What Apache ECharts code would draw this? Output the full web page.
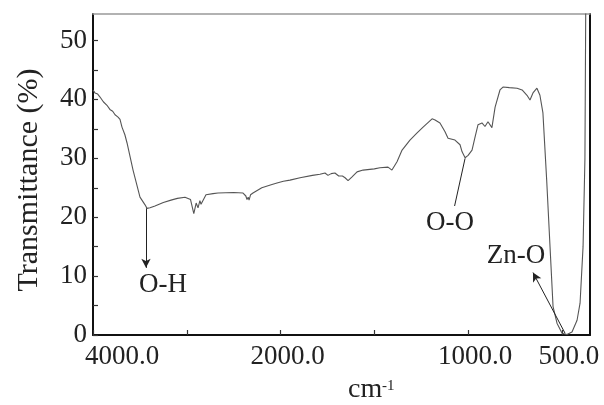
<!DOCTYPE html>
<html>
<head>
<meta charset="utf-8">
<script src="https://cdn.jsdelivr.net/npm/echarts@6/dist/echarts.min.js"></script>
<style>
  html, body { margin: 0; padding: 0; background: #fff; }
  #chart { width: 604px; height: 405px; }
</style>
</head>
<body>
<div id="chart"></div>
<script>
// FTIR spectrum: wavenumber (cm-1) and transmittance (%)
const wavenumber = [
  4000, 3979, 3950, 3925, 3890, 3851, 3820, 3790, 3765, 3750, 3733, 3712, 3691, 3660, 3637,
  3573, 3499, 3445, 3424, 3392, 3339, 3250, 3168, 3100, 3019, 2960, 2925, 2900, 2880, 2860,
  2848, 2795, 2720, 2667, 2500, 2400, 2370, 2358, 2345, 2336, 2320, 2294, 2200, 2100, 2038,
  1985, 1950, 1896, 1830, 1790, 1763, 1747, 1730, 1710, 1690, 1683, 1670, 1656, 1640, 1620,
  1592, 1560, 1500, 1470, 1427, 1406, 1379, 1352, 1310, 1272, 1240, 1192, 1176, 1150, 1123,
  1107, 1070, 1043, 1032, 1016, 1000, 979, 963, 947, 926, 910, 894, 873, 856, 830,
  814, 780, 739, 712, 686, 670, 654, 633, 617, 601, 581, 563, 547, 526, 499,
  473, 446, 419, 403, 387, 377, 372
];
const transmittance = [
  41.6, 41.1, 40.9, 40.4, 39.6, 39.0, 38.3, 38.0, 37.4, 37.6, 37.0, 36.6, 35.3, 34.0, 32.6,
  28.0, 23.4, 22.1, 21.5, 21.6, 21.9, 22.5, 22.9, 23.2, 23.4, 23.0, 20.6, 22.4, 21.6, 22.8,
  22.2, 23.8, 24.0, 24.1, 24.2, 24.1, 23.6, 23.0, 23.4, 22.9, 23.8, 24.1, 25.0, 25.5, 25.8,
  26.1, 26.3, 26.7, 27.1, 27.3, 27.5, 27.1, 27.4, 27.5, 27.0, 27.3, 27.0, 26.7, 26.2, 26.8,
  27.7, 28.0, 28.2, 28.4, 28.5, 28.0, 29.4, 31.4, 33.1, 34.3, 35.3, 36.7, 36.5, 36.0, 34.5,
  33.4, 33.1, 32.3, 31.1, 30.1, 30.5, 31.4, 33.6, 35.7, 36.0, 35.4, 36.2, 35.2, 38.7, 41.6,
  42.1, 42.0, 41.9, 41.6, 40.7, 39.9, 41.1, 41.9, 40.7, 37.7, 26.3, 14.9, 4.8, 2.0, 0.3,
  0.1, 0.5, 2.5, 5.4, 15.0, 30.0, 60.0
];

// Axis ticks (cm-1 and %)
const xTickLabels = [4000, 2000, 1000, 500];
const xTickMarks = [4000, 3000, 2000, 1500, 1000, 500];
const yTickLabels = [0, 10, 20, 30, 40, 50];
const yTickMarks = [0, 5, 10, 15, 20, 25, 30, 35, 40, 45, 50];

// Band assignments
const bandNames = ['O-H', 'O-O', 'Zn-O'];

// The region above 2000 cm-1 is drawn at half scale (broken wavenumber axis)
function toAxis(wn) { return wn > 2000 ? 2000 + (wn - 2000) / 2 : wn; }
function fromAxis(t) { return t > 2000 ? 2000 + (t - 2000) * 2 : t; }

const FONT = 'Liberation Serif';
const seriesData = wavenumber.map((w, i) => [toAxis(w), transmittance[i]]);

const chart = echarts.init(document.getElementById('chart'), null, { renderer: 'canvas' });

chart.setOption({
  animation: false,
  backgroundColor: '#fff',
  grid: { left: 93, right: 14, top: 14, bottom: 70, containLabel: false },
  xAxis: [{
    type: 'value',
    inverse: true,
    min: 350,
    max: 3000,
    axisLine: { show: true, onZero: false, lineStyle: { color: '#111', width: 2 } },
    axisTick: {
      show: true, inside: true, length: 5,
      customValues: xTickMarks.map(toAxis),
      lineStyle: { color: '#333', width: 1.2 }
    },
    axisLabel: {
      customValues: xTickLabels.map(toAxis),
      margin: 8,
      fontFamily: FONT, fontSize: 27, color: '#222',
      formatter: function (v) {
        const wn = fromAxis(v);
        const txt = wn.toFixed(1);
        return wn === 4000 ? '{f|' + txt + '}' : '{n|' + txt + '}';
      },
      rich: {
        n: { fontFamily: FONT, fontSize: 27, color: '#222', padding: [0, 0, 0, 14] },
        f: { fontFamily: FONT, fontSize: 27, color: '#222', padding: [0, 0, 0, 58] }
      }
    },
    splitLine: { show: false }
  }, {
    type: 'value',
    position: 'top',
    inverse: true,
    min: 350,
    max: 3000,
    axisLine: { show: true, onZero: false, lineStyle: { color: '#999', width: 1.5 } },
    axisTick: { show: false },
    axisLabel: { show: false },
    splitLine: { show: false }
  }],
  yAxis: [{
    type: 'value',
    min: 0,
    max: 54.5,
    axisLine: { show: true, onZero: false, lineStyle: { color: '#111', width: 2 } },
    axisTick: {
      show: true, inside: true, length: 5,
      customValues: yTickMarks,
      lineStyle: { color: '#333', width: 1.2 }
    },
    axisLabel: {
      customValues: yTickLabels,
      margin: 6,
      fontFamily: FONT, fontSize: 27, color: '#222'
    },
    splitLine: { show: false }
  }, {
    type: 'value',
    position: 'right',
    min: 0,
    max: 54.5,
    axisLine: { show: true, onZero: false, lineStyle: { color: '#111', width: 2 } },
    axisTick: { show: false },
    axisLabel: { show: false },
    splitLine: { show: false }
  }],
  series: [{
    type: 'line',
    data: seriesData,
    showSymbol: false,
    symbol: 'none',
    clip: true,
    lineStyle: { color: '#555', width: 1.1 },
    markLine: {
      silent: true,
      animation: false,
      symbol: ['none', 'none'],
      symbolSize: [7, 9],
      label: { show: false },
      lineStyle: { color: '#222', width: 1, type: 'solid' },
      data: [
        [{ coord: [toAxis(3435), 21.5], symbol: 'none' }, { coord: [toAxis(3435), 11.4], symbol: 'arrow' }],
        [{ coord: [toAxis(1016), 30.0], symbol: 'none' }, { coord: [toAxis(1072), 21.9], symbol: 'none' }],
        [{ coord: [toAxis(483), 0.3], symbol: 'none' }, { coord: [toAxis(654), 10.6], symbol: 'arrow' }]
      ]
    },
    markPoint: {
      silent: true,
      animation: false,
      symbol: 'circle',
      symbolSize: 0,
      label: {
        show: true, position: 'inside', formatter: '{b}',
        fontFamily: FONT, fontSize: 27, color: '#222'
      },
      data: [
        { name: bandNames[0], coord: [toAxis(3254), 8.5] },
        { name: bandNames[1], coord: [toAxis(1096), 19.0] },
        { name: bandNames[2], coord: [toAxis(745), 13.4] }
      ]
    }
  }],
  graphic: [{
    type: 'text',
    x: 29, y: 180,
    rotation: Math.PI / 2,
    style: {
      text: 'Transmittance (%)',
      font: '30px "Liberation Serif"',
      fill: '#222',
      align: 'center',
      verticalAlign: 'middle'
    }
  }, {
    type: 'text',
    x: 348, y: 390,
    style: {
      text: 'cm',
      font: '28px "Liberation Serif"',
      fill: '#222',
      align: 'left',
      verticalAlign: 'middle'
    }
  }, {
    type: 'text',
    x: 382, y: 386,
    style: {
      text: '-1',
      font: '15px "Liberation Serif"',
      fill: '#222',
      align: 'left',
      verticalAlign: 'middle'
    }
  }]
});
</script>
</body>
</html>
